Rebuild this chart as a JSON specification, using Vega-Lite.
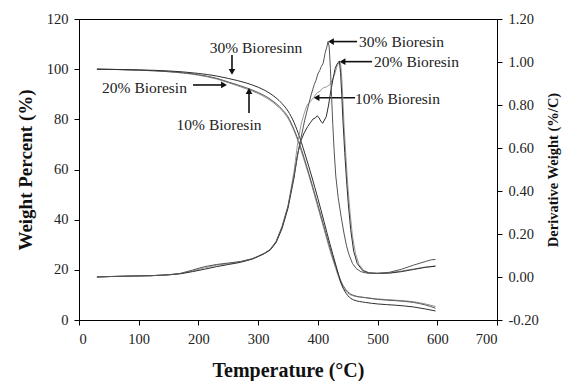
{
  "$schema": "https://vega.github.io/schema/vega-lite/v6.json",
  "width": 418,
  "height": 301,
  "autosize": {"type": "none"},
  "padding": {"left": 79, "top": 19, "right": 70, "bottom": 61},
  "background": "white",
  "config": {
    "view": {"stroke": "#000", "strokeWidth": 1},
    "axis": {"grid": false, "domainColor": "#000", "tickColor": "#000", "labelFont": "Liberation Serif", "labelFontSize": 14.5, "labelColor": "#222", "titleFont": "Liberation Serif", "titleColor": "#111", "titleFontWeight": "bold", "tickSize": 5}
  },
  "datasets": {
    "tga": [
      {"s": "10%", "T": 30, "W": 100}, {"s": "10%", "T": 100, "W": 99.6}, {"s": "10%", "T": 150, "W": 99.0}, {"s": "10%", "T": 200, "W": 97.6}, {"s": "10%", "T": 230, "W": 96.1}, {"s": "10%", "T": 250, "W": 94.6}, {"s": "10%", "T": 280, "W": 92.2}, {"s": "10%", "T": 300, "W": 90.3}, {"s": "10%", "T": 320, "W": 87.6}, {"s": "10%", "T": 340, "W": 83.5}, {"s": "10%", "T": 350, "W": 80.4}, {"s": "10%", "T": 360, "W": 75.5}, {"s": "10%", "T": 370, "W": 69}, {"s": "10%", "T": 380, "W": 61.5}, {"s": "10%", "T": 390, "W": 53.5}, {"s": "10%", "T": 400, "W": 45}, {"s": "10%", "T": 410, "W": 36.5}, {"s": "10%", "T": 420, "W": 28}, {"s": "10%", "T": 430, "W": 20.5}, {"s": "10%", "T": 440, "W": 14}, {"s": "10%", "T": 450, "W": 10.8}, {"s": "10%", "T": 460, "W": 9.6}, {"s": "10%", "T": 480, "W": 8.9}, {"s": "10%", "T": 500, "W": 8.4}, {"s": "10%", "T": 530, "W": 7.9}, {"s": "10%", "T": 560, "W": 7.3}, {"s": "10%", "T": 580, "W": 6.4}, {"s": "10%", "T": 597, "W": 5.4},
      {"s": "20%", "T": 30, "W": 100}, {"s": "20%", "T": 100, "W": 99.6}, {"s": "20%", "T": 150, "W": 99.0}, {"s": "20%", "T": 200, "W": 97.8}, {"s": "20%", "T": 230, "W": 96.4}, {"s": "20%", "T": 250, "W": 94.9}, {"s": "20%", "T": 280, "W": 92.6}, {"s": "20%", "T": 300, "W": 90.7}, {"s": "20%", "T": 320, "W": 88.1}, {"s": "20%", "T": 340, "W": 84.0}, {"s": "20%", "T": 350, "W": 81.0}, {"s": "20%", "T": 360, "W": 76.0}, {"s": "20%", "T": 370, "W": 69.8}, {"s": "20%", "T": 380, "W": 62.3}, {"s": "20%", "T": 390, "W": 54.3}, {"s": "20%", "T": 400, "W": 46}, {"s": "20%", "T": 410, "W": 37.5}, {"s": "20%", "T": 420, "W": 29}, {"s": "20%", "T": 430, "W": 21.3}, {"s": "20%", "T": 440, "W": 14.8}, {"s": "20%", "T": 450, "W": 11.3}, {"s": "20%", "T": 460, "W": 9.8}, {"s": "20%", "T": 480, "W": 8.9}, {"s": "20%", "T": 500, "W": 8.2}, {"s": "20%", "T": 530, "W": 7.7}, {"s": "20%", "T": 560, "W": 7.0}, {"s": "20%", "T": 580, "W": 6.0}, {"s": "20%", "T": 597, "W": 4.7},
      {"s": "30%", "T": 30, "W": 100}, {"s": "30%", "T": 100, "W": 99.7}, {"s": "30%", "T": 150, "W": 99.3}, {"s": "30%", "T": 200, "W": 98.3}, {"s": "30%", "T": 230, "W": 97.3}, {"s": "30%", "T": 250, "W": 96.3}, {"s": "30%", "T": 280, "W": 94.5}, {"s": "30%", "T": 300, "W": 92.8}, {"s": "30%", "T": 320, "W": 90.3}, {"s": "30%", "T": 340, "W": 86.3}, {"s": "30%", "T": 350, "W": 83.3}, {"s": "30%", "T": 360, "W": 78.8}, {"s": "30%", "T": 370, "W": 72.5}, {"s": "30%", "T": 380, "W": 65}, {"s": "30%", "T": 390, "W": 57}, {"s": "30%", "T": 400, "W": 48.5}, {"s": "30%", "T": 410, "W": 39.5}, {"s": "30%", "T": 420, "W": 30.5}, {"s": "30%", "T": 430, "W": 22}, {"s": "30%", "T": 440, "W": 14}, {"s": "30%", "T": 450, "W": 9.8}, {"s": "30%", "T": 460, "W": 8.0}, {"s": "30%", "T": 480, "W": 7.0}, {"s": "30%", "T": 500, "W": 6.4}, {"s": "30%", "T": 530, "W": 5.9}, {"s": "30%", "T": 560, "W": 5.2}, {"s": "30%", "T": 580, "W": 4.4}, {"s": "30%", "T": 597, "W": 3.6}
    ],
    "dtg": [
      {"s": "10%", "T": 30, "D": 0.0}, {"s": "10%", "T": 50, "D": 0.002}, {"s": "10%", "T": 80, "D": 0.004}, {"s": "10%", "T": 120, "D": 0.006}, {"s": "10%", "T": 150, "D": 0.011}, {"s": "10%", "T": 170, "D": 0.016}, {"s": "10%", "T": 190, "D": 0.028}, {"s": "10%", "T": 210, "D": 0.042}, {"s": "10%", "T": 230, "D": 0.055}, {"s": "10%", "T": 250, "D": 0.062}, {"s": "10%", "T": 270, "D": 0.07}, {"s": "10%", "T": 290, "D": 0.084}, {"s": "10%", "T": 300, "D": 0.096}, {"s": "10%", "T": 310, "D": 0.109}, {"s": "10%", "T": 320, "D": 0.126}, {"s": "10%", "T": 330, "D": 0.162}, {"s": "10%", "T": 340, "D": 0.23}, {"s": "10%", "T": 350, "D": 0.33}, {"s": "10%", "T": 360, "D": 0.49}, {"s": "10%", "T": 366, "D": 0.62}, {"s": "10%", "T": 372, "D": 0.71}, {"s": "10%", "T": 377, "D": 0.76}, {"s": "10%", "T": 382, "D": 0.80}, {"s": "10%", "T": 387, "D": 0.815}, {"s": "10%", "T": 393, "D": 0.835}, {"s": "10%", "T": 398, "D": 0.855}, {"s": "10%", "T": 404, "D": 0.865}, {"s": "10%", "T": 409, "D": 0.88}, {"s": "10%", "T": 415, "D": 0.885}, {"s": "10%", "T": 420, "D": 0.895}, {"s": "10%", "T": 425, "D": 0.92}, {"s": "10%", "T": 429, "D": 0.95}, {"s": "10%", "T": 432, "D": 0.98}, {"s": "10%", "T": 435, "D": 0.995}, {"s": "10%", "T": 438, "D": 1.0}, {"s": "10%", "T": 440, "D": 0.93}, {"s": "10%", "T": 442, "D": 0.82}, {"s": "10%", "T": 444, "D": 0.7}, {"s": "10%", "T": 447, "D": 0.56}, {"s": "10%", "T": 450, "D": 0.43}, {"s": "10%", "T": 454, "D": 0.3}, {"s": "10%", "T": 458, "D": 0.19}, {"s": "10%", "T": 463, "D": 0.11}, {"s": "10%", "T": 469, "D": 0.058}, {"s": "10%", "T": 477, "D": 0.03}, {"s": "10%", "T": 487, "D": 0.019}, {"s": "10%", "T": 500, "D": 0.017}, {"s": "10%", "T": 520, "D": 0.02}, {"s": "10%", "T": 540, "D": 0.028}, {"s": "10%", "T": 560, "D": 0.037}, {"s": "10%", "T": 580, "D": 0.046}, {"s": "10%", "T": 597, "D": 0.052},
      {"s": "20%", "T": 30, "D": 0.0}, {"s": "20%", "T": 50, "D": 0.002}, {"s": "20%", "T": 80, "D": 0.004}, {"s": "20%", "T": 120, "D": 0.006}, {"s": "20%", "T": 150, "D": 0.01}, {"s": "20%", "T": 170, "D": 0.015}, {"s": "20%", "T": 190, "D": 0.025}, {"s": "20%", "T": 210, "D": 0.036}, {"s": "20%", "T": 230, "D": 0.048}, {"s": "20%", "T": 250, "D": 0.058}, {"s": "20%", "T": 270, "D": 0.068}, {"s": "20%", "T": 290, "D": 0.083}, {"s": "20%", "T": 300, "D": 0.095}, {"s": "20%", "T": 310, "D": 0.108}, {"s": "20%", "T": 320, "D": 0.125}, {"s": "20%", "T": 330, "D": 0.16}, {"s": "20%", "T": 340, "D": 0.225}, {"s": "20%", "T": 350, "D": 0.32}, {"s": "20%", "T": 360, "D": 0.46}, {"s": "20%", "T": 366, "D": 0.57}, {"s": "20%", "T": 371, "D": 0.63}, {"s": "20%", "T": 377, "D": 0.67}, {"s": "20%", "T": 383, "D": 0.70}, {"s": "20%", "T": 388, "D": 0.72}, {"s": "20%", "T": 392, "D": 0.735}, {"s": "20%", "T": 396, "D": 0.74}, {"s": "20%", "T": 399, "D": 0.75}, {"s": "20%", "T": 402, "D": 0.74}, {"s": "20%", "T": 405, "D": 0.725}, {"s": "20%", "T": 408, "D": 0.715}, {"s": "20%", "T": 411, "D": 0.73}, {"s": "20%", "T": 414, "D": 0.745}, {"s": "20%", "T": 418, "D": 0.80}, {"s": "20%", "T": 422, "D": 0.87}, {"s": "20%", "T": 426, "D": 0.93}, {"s": "20%", "T": 429, "D": 0.97}, {"s": "20%", "T": 432, "D": 0.99}, {"s": "20%", "T": 436, "D": 1.005}, {"s": "20%", "T": 438, "D": 0.95}, {"s": "20%", "T": 440, "D": 0.85}, {"s": "20%", "T": 442, "D": 0.73}, {"s": "20%", "T": 445, "D": 0.58}, {"s": "20%", "T": 448, "D": 0.45}, {"s": "20%", "T": 451, "D": 0.34}, {"s": "20%", "T": 455, "D": 0.22}, {"s": "20%", "T": 460, "D": 0.12}, {"s": "20%", "T": 466, "D": 0.062}, {"s": "20%", "T": 475, "D": 0.03}, {"s": "20%", "T": 485, "D": 0.019}, {"s": "20%", "T": 500, "D": 0.017}, {"s": "20%", "T": 520, "D": 0.018}, {"s": "20%", "T": 540, "D": 0.025}, {"s": "20%", "T": 560, "D": 0.035}, {"s": "20%", "T": 580, "D": 0.045}, {"s": "20%", "T": 597, "D": 0.05},
      {"s": "30%", "T": 30, "D": 0.0}, {"s": "30%", "T": 50, "D": 0.002}, {"s": "30%", "T": 80, "D": 0.004}, {"s": "30%", "T": 120, "D": 0.006}, {"s": "30%", "T": 150, "D": 0.01}, {"s": "30%", "T": 170, "D": 0.017}, {"s": "30%", "T": 190, "D": 0.032}, {"s": "30%", "T": 210, "D": 0.048}, {"s": "30%", "T": 230, "D": 0.058}, {"s": "30%", "T": 250, "D": 0.065}, {"s": "30%", "T": 270, "D": 0.072}, {"s": "30%", "T": 290, "D": 0.085}, {"s": "30%", "T": 300, "D": 0.097}, {"s": "30%", "T": 310, "D": 0.11}, {"s": "30%", "T": 320, "D": 0.128}, {"s": "30%", "T": 330, "D": 0.165}, {"s": "30%", "T": 340, "D": 0.235}, {"s": "30%", "T": 350, "D": 0.33}, {"s": "30%", "T": 360, "D": 0.47}, {"s": "30%", "T": 367, "D": 0.58}, {"s": "30%", "T": 372, "D": 0.65}, {"s": "30%", "T": 378, "D": 0.73}, {"s": "30%", "T": 383, "D": 0.785}, {"s": "30%", "T": 389, "D": 0.85}, {"s": "30%", "T": 394, "D": 0.895}, {"s": "30%", "T": 397, "D": 0.915}, {"s": "30%", "T": 400, "D": 0.945}, {"s": "30%", "T": 403, "D": 0.96}, {"s": "30%", "T": 406, "D": 0.98}, {"s": "30%", "T": 409, "D": 0.995}, {"s": "30%", "T": 412, "D": 1.04}, {"s": "30%", "T": 415, "D": 1.07}, {"s": "30%", "T": 417, "D": 1.095}, {"s": "30%", "T": 419, "D": 1.07}, {"s": "30%", "T": 421, "D": 0.97}, {"s": "30%", "T": 423, "D": 0.84}, {"s": "30%", "T": 425, "D": 0.71}, {"s": "30%", "T": 427, "D": 0.6}, {"s": "30%", "T": 430, "D": 0.47}, {"s": "30%", "T": 434, "D": 0.37}, {"s": "30%", "T": 439, "D": 0.28}, {"s": "30%", "T": 444, "D": 0.2}, {"s": "30%", "T": 448, "D": 0.145}, {"s": "30%", "T": 452, "D": 0.105}, {"s": "30%", "T": 458, "D": 0.063}, {"s": "30%", "T": 464, "D": 0.04}, {"s": "30%", "T": 472, "D": 0.025}, {"s": "30%", "T": 482, "D": 0.018}, {"s": "30%", "T": 500, "D": 0.017}, {"s": "30%", "T": 520, "D": 0.022}, {"s": "30%", "T": 540, "D": 0.036}, {"s": "30%", "T": 560, "D": 0.055}, {"s": "30%", "T": 580, "D": 0.072}, {"s": "30%", "T": 590, "D": 0.08}, {"s": "30%", "T": 597, "D": 0.082}
    ],
    "labels": [
      {"label": "30% Bioresinn", "T": 296.4, "W": 108.3},
      {"label": "20% Bioresin", "T": 109.7, "W": 92.6},
      {"label": "10% Bioresin", "T": 234.5, "W": 77.7},
      {"label": "30% Bioresin", "T": 540.1, "W": 111.0},
      {"label": "20% Bioresin", "T": 565.2, "W": 103.0},
      {"label": "10% Bioresin", "T": 533.4, "W": 88.1}
    ],
    "arrows": [
      {"T": 256.2, "T2": 256.2, "W": 105.6, "W2": 99.7},
      {"T": 190.9, "T2": 239.5, "W": 93.7, "W2": 93.7},
      {"T": 284.7, "T2": 284.7, "W": 82.5, "W2": 90.9},
      {"T": 465.6, "T2": 423.7, "W": 111.0, "W2": 111.0},
      {"T": 490.7, "T2": 443.8, "W": 103.0, "W2": 103.0},
      {"T": 462.2, "T2": 400.3, "W": 88.6, "W2": 88.6}
    ],
    "heads": [
      {"T": 256.2, "W": 98.9, "dir": "triangle-down"},
      {"T": 242.8, "W": 93.7, "dir": "triangle-right"},
      {"T": 284.7, "W": 91.3, "dir": "triangle-up"},
      {"T": 422.0, "W": 111.0, "dir": "triangle-left"},
      {"T": 441.3, "W": 103.0, "dir": "triangle-left"},
      {"T": 397.8, "W": 88.6, "dir": "triangle-left"}
    ]
  },
  "layer": [
    {
      "layer": [
        {
          "data": {"name": "tga"},
          "mark": {"type": "line", "strokeWidth": 1, "interpolate": "monotone"},
          "encoding": {
            "x": {"field": "T", "type": "quantitative", "scale": {"domain": [0, 700], "nice": false},
              "axis": {"values": [0, 100, 200, 300, 400, 500, 600, 700], "title": "Temperature (°C)", "titleFontSize": 20, "titlePadding": 15, "labelPadding": 7}},
            "y": {"field": "W", "type": "quantitative", "scale": {"domain": [0, 120], "nice": false},
              "axis": {"values": [0, 20, 40, 60, 80, 100, 120], "title": "Weight Percent (%)", "titleFontSize": 19, "titlePadding": 11, "labelPadding": 6}},
            "color": {"field": "s", "type": "nominal", "legend": null, "scale": {"domain": ["10%", "20%", "30%"], "range": ["#8c8c8c", "#5a5a5a", "#2e2e2e"]}}
          }
        },
        {
          "data": {"name": "arrows"},
          "mark": {"type": "rule", "color": "#111", "strokeWidth": 1.6},
          "encoding": {
            "x": {"field": "T", "type": "quantitative", "scale": {"domain": [0, 700], "nice": false}},
            "x2": {"field": "T2"},
            "y": {"field": "W", "type": "quantitative", "scale": {"domain": [0, 120], "nice": false}},
            "y2": {"field": "W2"}
          }
        },
        {
          "data": {"name": "heads"},
          "mark": {"type": "point", "filled": true, "color": "#111", "opacity": 1, "size": 45},
          "encoding": {
            "x": {"field": "T", "type": "quantitative", "scale": {"domain": [0, 700], "nice": false}},
            "y": {"field": "W", "type": "quantitative", "scale": {"domain": [0, 120], "nice": false}},
            "shape": {"field": "dir", "type": "nominal", "scale": null}
          }
        },
        {
          "data": {"name": "labels"},
          "mark": {"type": "text", "font": "Liberation Serif", "fontSize": 15.5, "color": "#222", "align": "center", "baseline": "middle"},
          "encoding": {
            "x": {"field": "T", "type": "quantitative", "scale": {"domain": [0, 700], "nice": false}},
            "y": {"field": "W", "type": "quantitative", "scale": {"domain": [0, 120], "nice": false}},
            "text": {"field": "label"}
          }
        }
      ]
    },
    {
      "data": {"name": "dtg"},
      "mark": {"type": "line", "strokeWidth": 1},
      "encoding": {
        "x": {"field": "T", "type": "quantitative", "scale": {"domain": [0, 700], "nice": false}},
        "y": {"field": "D", "type": "quantitative", "scale": {"domain": [-0.2, 1.2], "nice": false},
          "axis": {"orient": "right", "values": [-0.2, 0, 0.2, 0.4, 0.6, 0.8, 1.0, 1.2],
            "labelExpr": "datum.value < 0 ? '-' + format(-datum.value, '.2f') : format(datum.value, '.2f')",
            "title": "Derivative Weight (%/C)", "titleFontSize": 14.5, "titleAngle": 270, "titleBaseline": "top", "titlePadding": 8, "labelPadding": 6}},
        "color": {"field": "s", "type": "nominal", "legend": null, "scale": {"domain": ["10%", "20%", "30%"], "range": ["#9a9a9a", "#2e2e2e", "#555555"]}}
      }
    }
  ],
  "resolve": {"scale": {"y": "independent", "color": "independent"}}
}
